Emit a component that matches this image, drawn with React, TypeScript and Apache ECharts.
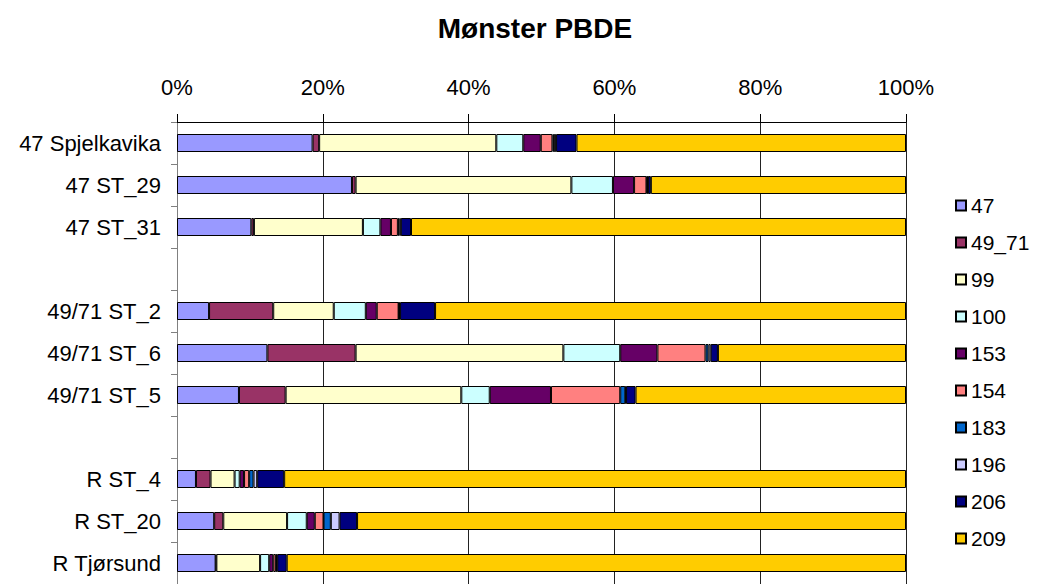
import React, { useEffect, useRef } from "react";
import * as echarts from "echarts";

const categories = [
  "47 Spjelkavika",
  "47 ST_29",
  "47 ST_31",
  "",
  "49/71 ST_2",
  "49/71 ST_6",
  "49/71 ST_5",
  " ",
  "R ST_4",
  "R ST_20",
  "R Tjørsund",
];

const seriesNames = ["47", "49_71", "99", "100", "153", "154", "183", "196", "206", "209"];
const colors = ["#9999FF", "#993366", "#FFFFCC", "#CCFFFF", "#660066", "#FF8080", "#0066CC", "#CCCCFF", "#000080", "#FFCC00"];

const s47 = [18.6, 24.0, 10.2, null, 4.4, 12.4, 8.5, null, 2.6, 5.1, 5.3];
const s49_71 = [0.9, 0.5, 0.35, null, 8.8, 12.1, 6.4, null, 2.0, 1.25, 0.1];
const s99 = [24.3, 29.6, 14.95, null, 8.3, 28.5, 24.1, null, 3.3, 8.75, 6.0];
const s100 = [3.7, 5.7, 2.4, null, 4.4, 7.8, 3.9, null, 0.7, 2.7, 1.25];
const s153 = [2.4, 2.9, 1.45, null, 1.5, 5.1, 8.4, null, 0.6, 1.1, 0.55];
const s154 = [1.6, 1.7, 0.95, null, 3.0, 6.6, 9.5, null, 0.7, 1.2, 0.35];
const s183 = [0.2, 0.1, 0.2, null, 0.05, 0.4, 0.7, null, 0.6, 1.0, 0.1];
const s196 = [0.3, 0.1, 0.2, null, 0.15, 0.3, 0.1, null, 0.5, 1.2, 0.1];
const s206 = [2.8, 0.4, 1.4, null, 4.8, 1.0, 1.3, null, 3.7, 2.4, 1.3];
const s209 = [45.2, 35.0, 67.9, null, 64.6, 25.8, 37.1, null, 85.3, 75.3, 84.95];

const seriesValues = [s47, s49_71, s99, s100, s153, s154, s183, s196, s206, s209];

const xTicks = [0, 20, 40, 60, 80, 100];

export default function App() {
  const ref = useRef<HTMLDivElement>(null);
  useEffect(() => {
    if (!ref.current) return;
    const chart = echarts.init(ref.current, null, { renderer: "svg" });
    const font = "Liberation Sans, Arial, sans-serif";
    chart.setOption({
      animation: false,
      backgroundColor: "#ffffff",
      title: {
        text: "Mønster PBDE",
        left: 530,
        textAlign: "center",
        top: 9,
        textStyle: { fontFamily: font, fontSize: 28, fontWeight: "bold", color: "#000" },
      },
      legend: {
        orient: "vertical",
        left: 950,
        top: 190,
        itemWidth: 10,
        itemHeight: 10,
        itemGap: 16,
        icon: "rect",
        data: seriesNames,
        textStyle: { fontFamily: font, fontSize: 21, color: "#000", lineHeight: 21 },
      },
      grid: { left: 177, right: 158, top: 122, height: 470, containLabel: false },
      xAxis: {
        type: "value",
        position: "top",
        min: 0,
        max: 100,
        interval: 20,
        axisLine: { show: true, lineStyle: { color: "#000", width: 1 } },
        axisTick: { show: true, length: 8, lineStyle: { color: "#000" } },
        axisLabel: {
          formatter: (v: number) => (xTicks.includes(v) ? v + "%" : ""),
          fontFamily: font,
          fontSize: 22,
          color: "#000",
          margin: 24,
        },
        splitLine: { show: true, lineStyle: { color: "#222", width: 1 } },
      },
      yAxis: {
        type: "category",
        inverse: true,
        data: categories,
        axisLine: { show: true, lineStyle: { color: "#808080", width: 1 } },
        axisTick: { show: true, length: 6, lineStyle: { color: "#808080" } },
        axisLabel: { fontFamily: font, fontSize: 22, color: "#000", margin: 16 },
      },
      series: seriesNames.map((name, i) => ({
        name,
        type: "bar",
        stack: "total",
        barWidth: 18,
        data: seriesValues[i],
        itemStyle: { color: colors[i], borderColor: "#000", borderWidth: 1 },
      })),
    });
    return () => chart.dispose();
  }, []);
  return (
    <div
      ref={ref}
      style={{ position: "absolute", left: 0, top: 0, width: 1064, height: 584, background: "#fff" }}
    />
  );
}
